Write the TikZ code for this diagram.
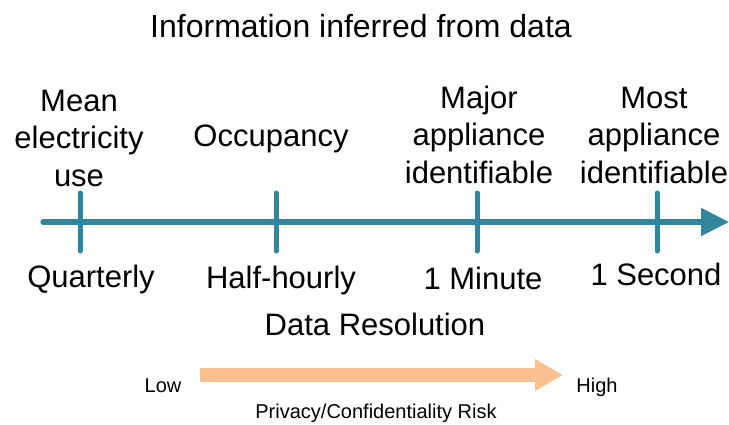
\documentclass[tikz,border=0pt]{standalone}
\usepackage{fontspec}
\setmainfont{Liberation Sans}
\usetikzlibrary{arrows.meta}
\definecolor{axisteal}{HTML}{31859C}
\definecolor{riskorange}{HTML}{FAC090}
\tikzset{
  big/.style={inner sep=0pt, anchor=base, align=center, font=\fontsize{31}{37.5}\selectfont},
  ttl/.style={inner sep=0pt, anchor=base, font=\fontsize{32}{38}\selectfont},
  small/.style={inner sep=0pt, anchor=base, font=\fontsize{20}{24}\selectfont},
  axisline/.style={draw=axisteal, line width=5.3pt, line cap=round},
  tickline/.style={draw=axisteal, line width=5pt, line cap=round},
  riskarrow/.style={draw=riskorange, line width=14pt, -{Triangle[length=28pt,width=30pt]}}
}
\begin{document}
\begin{tikzpicture}[x=1pt,y=-1pt]
\useasboundingbox (0,0) rectangle (729,424);
% title
\node[ttl] (title) at (361,37) {Information inferred from data};
% upper labels (anchor = baseline of last line)
\node[big] (mean) at (79,186) {Mean\\electricity\\use};
\node[big] (occ) at (271,146) {Occupancy};
\node[big] (major) at (479,183) {Major\\appliance\\identifiable};
\node[big] (most) at (654,183) {Most\\appliance\\identifiable};
% axis
\coordinate (axS) at (43,222);
\coordinate (axE) at (729,222);
\draw[axisline, -{Triangle[length=28pt,width=27pt]}] (axS) -- (axE);
\foreach \n/\x in {t1/80, t2/276, t3/477, t4/657}{
  \coordinate (\n top) at (\x,193);
  \coordinate (\n bot) at (\x,251);
  \draw[tickline] (\n top) -- (\n bot);
}
% lower labels
\node[big] (q) at (91,287) {Quarterly};
\node[big] (hh) at (281,288) {Half-hourly};
\node[big] (min) at (483,289) {1 Minute};
\node[big] (sec) at (656,285) {1 Second};
\node[big] (dr) at (375,335) {Data Resolution};
% risk arrow
\coordinate (rS) at (200,375);
\coordinate (rE) at (563,375);
\draw[riskarrow] (rS) -- (rE);
\node[small] (low) at (163,392) {Low};
\node[small] (high) at (597,392) {High};
\node[small] (risk) at (376,418) {Privacy/Confidentiality Risk};
\end{tikzpicture}
\end{document}
